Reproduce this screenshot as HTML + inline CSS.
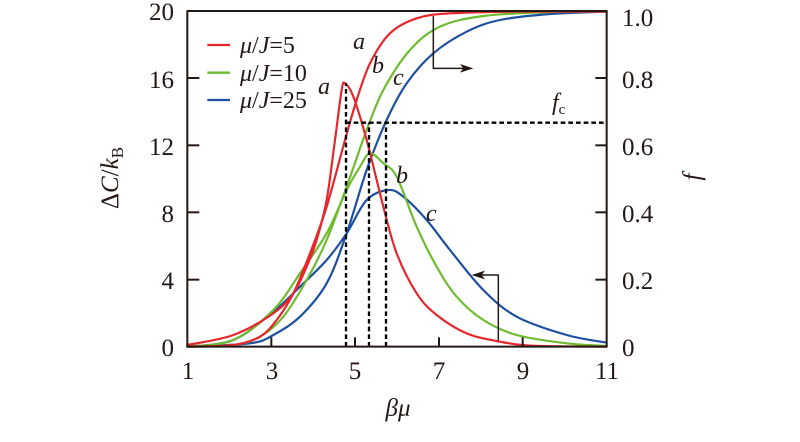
<!DOCTYPE html>
<html><head><meta charset="utf-8"><style>
html,body{margin:0;padding:0;background:#fff;}
svg{display:block;}
svg text{font-family:"Liberation Serif","DejaVu Serif","Noto Serif CJK SC",serif !important;fill:#231815;}
</style></head><body>
<svg id="s" width="800" height="442" viewBox="0 0 800 442" xmlns="http://www.w3.org/2000/svg">
<g transform="translate(150,0) scale(0.33333)" fill="none" stroke-linejoin="round" stroke-linecap="round">
 <g id="curves"></g>
 <g stroke="#000" stroke-width="7" stroke-dasharray="14,9" stroke-linecap="butt">
  <line x1="588" y1="1040" x2="588" y2="250"/>
  <line x1="657" y1="1040" x2="657" y2="368"/>
  <line x1="708" y1="1040" x2="708" y2="368"/>
  <line x1="588" y1="368" x2="1370" y2="368"/>
 </g>
 <g stroke="#231815" stroke-width="4.5">
  <polyline points="850,50 850,205 960,205"/>
  <polyline points="1045,1020 1045,825 975,825"/>
 </g>
 <path d="M970,205 L930,192 L940,205 L930,218 Z" fill="#231815"/>
 <path d="M965,825 L1005,812 L995,825 L1005,838 Z" fill="#231815"/>
 <g stroke="#231815" stroke-width="6" stroke-linecap="butt">
  <rect x="112" y="33" width="1258" height="1007"/>
  <line x1="112" y1="234" x2="148" y2="234"/><line x1="112" y1="436" x2="148" y2="436"/>
  <line x1="112" y1="637" x2="148" y2="637"/><line x1="112" y1="839" x2="148" y2="839"/>
  <line x1="1370" y1="234" x2="1336" y2="234"/><line x1="1370" y1="436" x2="1336" y2="436"/>
  <line x1="1370" y1="637" x2="1336" y2="637"/><line x1="1370" y1="839" x2="1336" y2="839"/>
  <line x1="364" y1="1040" x2="364" y2="1012"/><line x1="615" y1="1040" x2="615" y2="1012"/>
  <line x1="867" y1="1040" x2="867" y2="1012"/><line x1="1118" y1="1040" x2="1118" y2="1012"/>
 </g>
 <g stroke-width="7" stroke-linecap="butt">
  <line x1="172" y1="135" x2="240" y2="135" stroke="#e5262a"/>
  <line x1="172" y1="218" x2="240" y2="218" stroke="#6dbb2f"/>
  <line x1="172" y1="300" x2="240" y2="300" stroke="#1c4fa0"/>
 </g>
</g>
<g font-size="25">
 <text x="174" y="20" text-anchor="end">20</text>
 <text x="174" y="88" text-anchor="end">16</text>
 <text x="174" y="155" text-anchor="end">12</text>
 <text x="174" y="222" text-anchor="end">8</text>
 <text x="174" y="289" text-anchor="end">4</text>
 <text x="174" y="356" text-anchor="end">0</text>
 <text x="622" y="26">1.0</text>
 <text x="622" y="88">0.8</text>
 <text x="622" y="155">0.6</text>
 <text x="622" y="222">0.4</text>
 <text x="622" y="289">0.2</text>
 <text x="622" y="356">0</text>
 <text x="188" y="379" text-anchor="middle">1</text>
 <text x="272" y="379" text-anchor="middle">3</text>
 <text x="355" y="379" text-anchor="middle">5</text>
 <text x="439" y="379" text-anchor="middle">7</text>
 <text x="523" y="379" text-anchor="middle">9</text>
 <text x="607" y="379" text-anchor="middle">11</text>
 <text x="398" y="416" text-anchor="middle" font-style="italic">βμ</text>
 <text transform="translate(118,178) rotate(-90)" text-anchor="middle">Δ<tspan font-style="italic">C</tspan>/<tspan font-style="italic">k</tspan><tspan font-size="17" dy="5">B</tspan></text>
 <text transform="translate(700,177) rotate(-90)" text-anchor="middle" font-style="italic">f</text>
</g>
<g font-size="24">
 <text x="240" y="53"><tspan font-style="italic">μ</tspan>/<tspan font-style="italic">J</tspan>=5</text>
 <text x="240" y="81"><tspan font-style="italic">μ</tspan>/<tspan font-style="italic">J</tspan>=10</text>
 <text x="240" y="108"><tspan font-style="italic">μ</tspan>/<tspan font-style="italic">J</tspan>=25</text>
 <g font-style="italic">
  <text x="353" y="49">a</text><text x="318" y="94">a</text>
  <text x="372" y="73">b</text><text x="396" y="183">b</text>
  <text x="393" y="85">c</text><text x="426" y="221">c</text>
  <text x="552" y="110">f<tspan font-style="normal" font-size="15" dy="4">c</tspan></text>
 </g>
</g>
</svg>
<script>
var C={
r1:[[112,1035],[250,1005],[370,940],[430,880],[470,800],[500,720],[530,600],[555,420],[575,270],[585,250],[610,290],[650,420],[700,620],[740,760],[800,880],[860,945],[950,1000],[1050,1025],[1150,1037],[1370,1040]],
r2:[[112,1040],[250,1035],[330,1010],[380,960],[430,880],[480,760],[530,620],[585,420],[620,300],[660,190],[720,100],[800,55],[900,40],[1100,35],[1370,35]],
g1:[[112,1040],[250,1020],[370,930],[450,820],[530,700],[590,570],[630,500],[660,460],[700,490],[740,530],[800,680],[860,800],[920,890],[1000,960],[1100,1005],[1250,1030],[1370,1038]],
g2:[[112,1040],[250,1035],[330,1010],[400,950],[470,840],[530,720],[590,560],[650,390],[700,270],[780,150],[870,80],[1000,48],[1200,36],[1370,35]],
b1:[[112,1040],[250,1020],[370,935],[450,860],[530,780],[590,700],[650,600],[715,570],[760,590],[830,660],[900,750],[1000,870],[1100,950],[1250,1005],[1370,1028]],
b2:[[112,1040],[300,1030],[370,1005],[450,950],[530,850],[590,700],[650,510],[710,360],[770,250],[850,160],[950,95],[1050,60],[1200,42],[1370,35]]};
var col={r:"#e5262a",g:"#6dbb2f",b:"#1c4fa0"};
function cr(p){var d="M"+p[0][0]+","+p[0][1];for(var i=0;i<p.length-1;i++){var a=p[Math.max(i-1,0)],b=p[i],c=p[i+1],e=p[Math.min(i+2,p.length-1)];
d+=" C"+(b[0]+(c[0]-a[0])/6)+","+(b[1]+(c[1]-a[1])/6)+" "+(c[0]-(e[0]-b[0])/6)+","+(c[1]-(e[1]-b[1])/6)+" "+c[0]+","+c[1];}return d;}
var g=document.getElementById("curves"),h="";
["b1","b2","g1","g2","r1","r2"].forEach(function(k){h+='<path d="'+cr(C[k])+'" stroke="'+col[k[0]]+'" stroke-width="6.5"/>';});
g.innerHTML=h;
</script>
</body></html>
